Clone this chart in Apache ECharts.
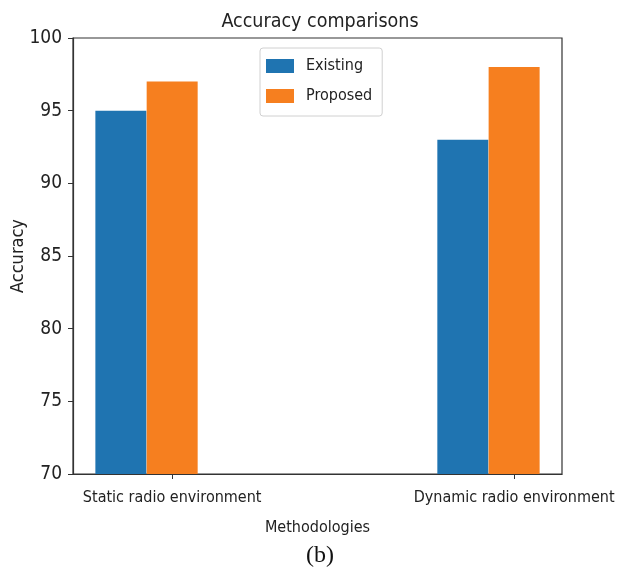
<!DOCTYPE html>
<html><head><meta charset="utf-8">
<script src="https://cdn.jsdelivr.net/npm/echarts@6/dist/echarts.min.js"></script>
<style>html,body{margin:0;padding:0;background:#fff}#c{width:624px;height:572px}</style>
</head><body><div id="c"></div>
<script>
const categories = ['Static radio environment', 'Dynamic radio environment'];
const existing = [95, 93];
const proposed = [97, 98];
const yTicks = [70, 75, 80, 85, 90, 95, 100];
const seriesNames = ['Existing', 'Proposed'];

const BAR_W = 0.15; // bar width in x units (matplotlib style)
const FONT = '"DejaVu Sans Condensed", "Liberation Sans Narrow", "DejaVu Sans", sans-serif';
const TXT = '#222';

const tickPos = categories.map((c, i) => i + BAR_W);
const chart = echarts.init(document.getElementById('c'), null, {renderer: 'canvas'});
chart.setOption({
  animation: false,
  backgroundColor: '#fff',
  title: {
    text: 'Accuracy comparisons', left: 315, top: 7, textAlign: 'center',
    textStyle: {fontFamily: FONT, fontSize: 19.5, fontWeight: 'normal', color: TXT}
  },
  graphic: [{
    type: 'text', left: 306, top: 544,
    style: {text: '(b)', font: '24px "Liberation Serif", serif', fill: '#111'}
  }],
  legend: {
    orient: 'vertical', left: 260, top: 48, icon: 'rect',
    itemWidth: 28, itemHeight: 14, itemGap: 14,
    padding: [10, 10, 12, 6],
    borderColor: '#d0d0d0', borderWidth: 1, borderRadius: 3,
    textStyle: {fontFamily: FONT, fontSize: 16, color: TXT, padding: [0, 0, 0, 7]},
    data: seriesNames
  },
  grid: {
    left: 73, right: 62, top: 38, bottom: 98,
    outerBoundsMode: 'none', containLabel: false,
    show: true, borderColor: '#333', borderWidth: 1.2
  },
  xAxis: {
    type: 'value', min: -0.14, max: 1.29,
    name: 'Methodologies', nameLocation: 'middle', nameGap: 46, nameMoveOverlap: false,
    nameTextStyle: {fontFamily: FONT, fontSize: 16, color: TXT},
    axisLine: {show: true, onZero: false, lineStyle: {color: '#333', width: 1.2}},
    axisTick: {show: true, length: 5, inside: false, customValues: tickPos, lineStyle: {color: '#333'}},
    axisLabel: {
      customValues: tickPos, margin: 16,
      fontFamily: FONT, fontSize: 16, color: TXT,
      formatter: v => categories[Math.round(v - BAR_W)]
    },
    splitLine: {show: false}
  },
  yAxis: {
    type: 'value', min: yTicks[0], max: yTicks[yTicks.length - 1], interval: 5,
    name: 'Accuracy', nameLocation: 'middle', nameGap: 46, nameRotate: 90, nameMoveOverlap: false,
    nameTextStyle: {fontFamily: FONT, fontSize: 18, color: TXT},
    axisLine: {show: true, onZero: false, lineStyle: {color: '#333', width: 1.2}},
    axisTick: {show: true, length: 5, lineStyle: {color: '#333'}},
    axisLabel: {margin: 11, fontFamily: FONT, fontSize: 19, color: TXT},
    splitLine: {show: false}
  },
  series: [
    {
      name: seriesNames[0], type: 'bar', barWidth: 51, barGap: '-100%',
      itemStyle: {color: '#1f74b1'},
      data: existing.map((v, i) => [i, v])
    },
    {
      name: seriesNames[1], type: 'bar', barWidth: 51, barGap: '-100%',
      itemStyle: {color: '#f67f1f'},
      data: proposed.map((v, i) => [i + BAR_W, v])
    }
  ]
});
</script></body></html>
